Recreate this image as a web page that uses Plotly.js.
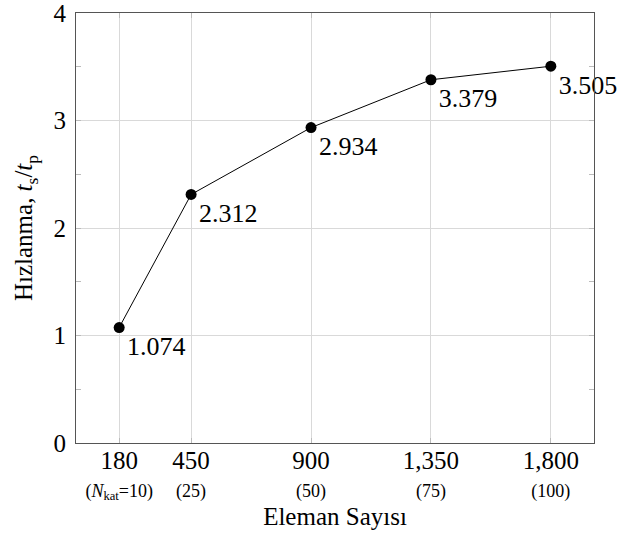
<!DOCTYPE html>
<html>
<head>
<meta charset="utf-8">
<script src="https://cdn.plot.ly/plotly-3.0.1.min.js"></script>
<style>html,body{margin:0;padding:0;background:#fff;}#chart{width:619px;height:538px;}</style>
</head>
<body>
<div id="chart"></div>
<script>
const elements = [180, 450, 900, 1350, 1800];
const nkat = ['<i>N</i><sub>kat</sub>=10', '25', '50', '75', '100'];
const xTickMain = ['180', '450', '900', '1,350', '1,800'];
const speedup = [1.074, 2.312, 2.934, 3.379, 3.505];

const ticktext = xTickMain.map((m, i) =>
  '<span style="font-size:25px">' + m + '</span><br><span style="font-size:18px">(' + nkat[i] + ')</span>');
const FONT = 'Liberation Serif';

const trace = {
  x: elements,
  y: speedup,
  mode: 'lines+markers+text',
  line: {color: '#000', width: 1},
  marker: {color: '#000', size: 11},
  texttemplate: '%{y:.3f}',
  textposition: 'bottom right',
  textfont: {family: FONT, size: 26, color: '#000'},
  cliponaxis: false,
  hoverinfo: 'none',
  showlegend: false
};

const axisCommon = {
  showgrid: true,
  gridcolor: '#d9d9d9',
  gridwidth: 1,
  showline: true,
  linecolor: '#555',
  linewidth: 1,
  mirror: 'ticks',
  ticks: 'inside',
  ticklen: 5,
  tickcolor: '#bbb',
  zeroline: false,
  ticklabeloverflow: 'allow'
};

const layout = {
  width: 619,
  height: 538,
  margin: {l: 76, r: 25, t: 13, b: 95},
  paper_bgcolor: '#fff',
  plot_bgcolor: '#fff',
  font: {family: FONT, color: '#000'},
  xaxis: Object.assign({}, axisCommon, {
    range: [18, 1962],
    tickmode: 'array',
    tickvals: elements,
    ticktext: ticktext,
    tickfont: {family: FONT, size: 21, color: '#000'},
    title: {text: 'Eleman Sayısı', font: {family: FONT, size: 25, color: '#000'}, standoff: 5}
  }),
  yaxis: Object.assign({}, axisCommon, {
    range: [0, 4],
    tickmode: 'linear',
    tick0: 0,
    dtick: 1,
    ticklabelstandoff: 4,
    tickfont: {family: FONT, size: 25, color: '#000'},
    minor: {dtick: 0.5, ticks: 'inside', ticklen: 5, tickcolor: '#bbb', showgrid: false},
    title: {text: 'Hızlanma, <i>t</i><sub>s</sub>/<i>t</i><sub>p</sub>', font: {family: FONT, size: 25, color: '#000'}, standoff: 13}
  })
};

Plotly.newPlot('chart', [trace], layout, {displayModeBar: false, staticPlot: true});
</script>
</body>
</html>
